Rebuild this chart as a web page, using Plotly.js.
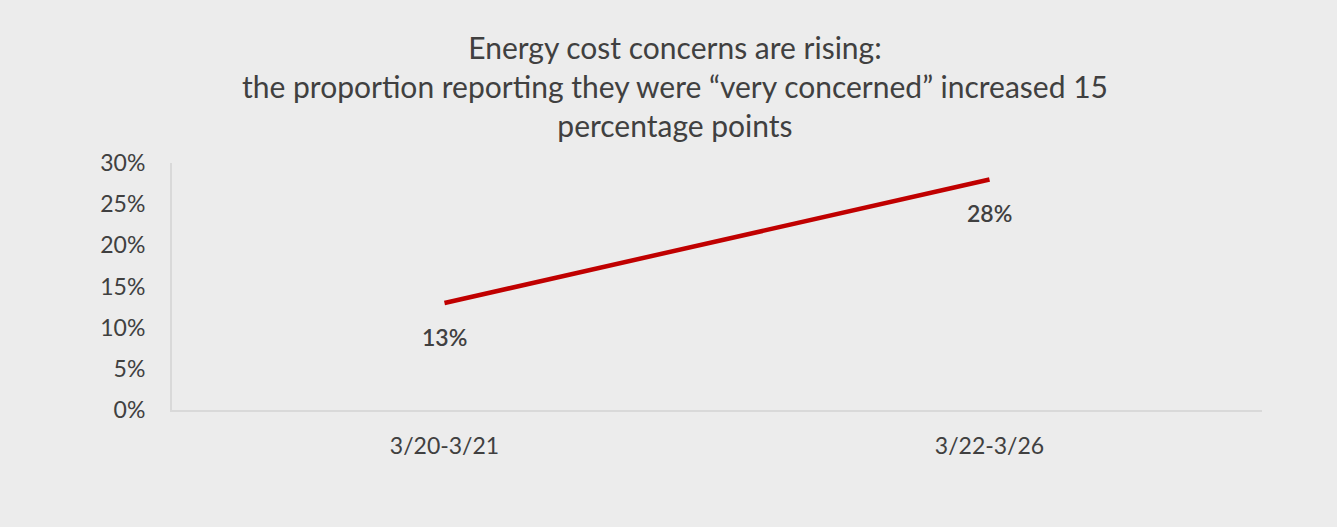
<!DOCTYPE html>
<html><head><meta charset="utf-8">
<script src="https://cdn.plot.ly/plotly-3.0.1.min.js"></script>
<style>html,body{margin:0;padding:0;background:#ececec;}#chart{width:1337px;height:527px;}</style>
</head><body><div id="chart"></div>
<script>
const categories = ["3/20-3/21", "3/22-3/26"];
const veryConcerned = [0.13, 0.28];
const labels = ["13%", "28%"];
const yTicks = [0, 0.05, 0.10, 0.15, 0.20, 0.25, 0.30];
const yTickLabels = ["0%", "5%", "10%", "15%", "20%", "25%", "30%"];
const titleText = 'Energy cost concerns are rising:<br>the proportion reporting they were “very concerned” increased 15<br>percentage points';

const FONT = 'Lato, "Open Sans", sans-serif';

const trace = {
  x: categories, y: veryConcerned, type: 'scatter', mode: 'lines',
  line: {color: '#c00000', width: 4.5}, hoverinfo: 'skip'
};
const annotations = categories.map((c, i) => ({
  x: c, y: veryConcerned[i], text: labels[i], showarrow: false,
  yshift: -34, font: {family: FONT, size: 23, color: '#404040', weight: 600}
}));
annotations.push({
  xref: 'paper', yref: 'paper', x: 0.4615, y: 1.55, xanchor: 'center', yanchor: 'top',
  text: titleText, showarrow: false, align: 'center',
  font: {family: FONT, size: 30, color: '#404040'}
});
const layout = {
  width: 1337, height: 527,
  paper_bgcolor: '#ececec', plot_bgcolor: '#ececec',
  margin: {l: 172, r: 75, t: 163, b: 117},
  showlegend: false,
  xaxis: {
    type: 'category', range: [-0.5, 1.5], showgrid: false, zeroline: false,
    showline: true, linecolor: '#d9d9d9', linewidth: 2,
    ticks: '', ticklabelstandoff: 14,
    tickfont: {family: FONT, size: 23, color: '#404040'}
  },
  yaxis: {
    range: [0, 0.30], tickvals: yTicks, ticktext: yTickLabels,
    showgrid: false, zeroline: false, showline: true, linecolor: '#d9d9d9', linewidth: 2,
    ticks: '', ticklabelstandoff: 20,
    tickfont: {family: FONT, size: 23, color: '#404040'}
  },
  annotations: annotations
};
Plotly.newPlot('chart', [trace], layout, {displayModeBar: false, staticPlot: true});
</script></body></html>
